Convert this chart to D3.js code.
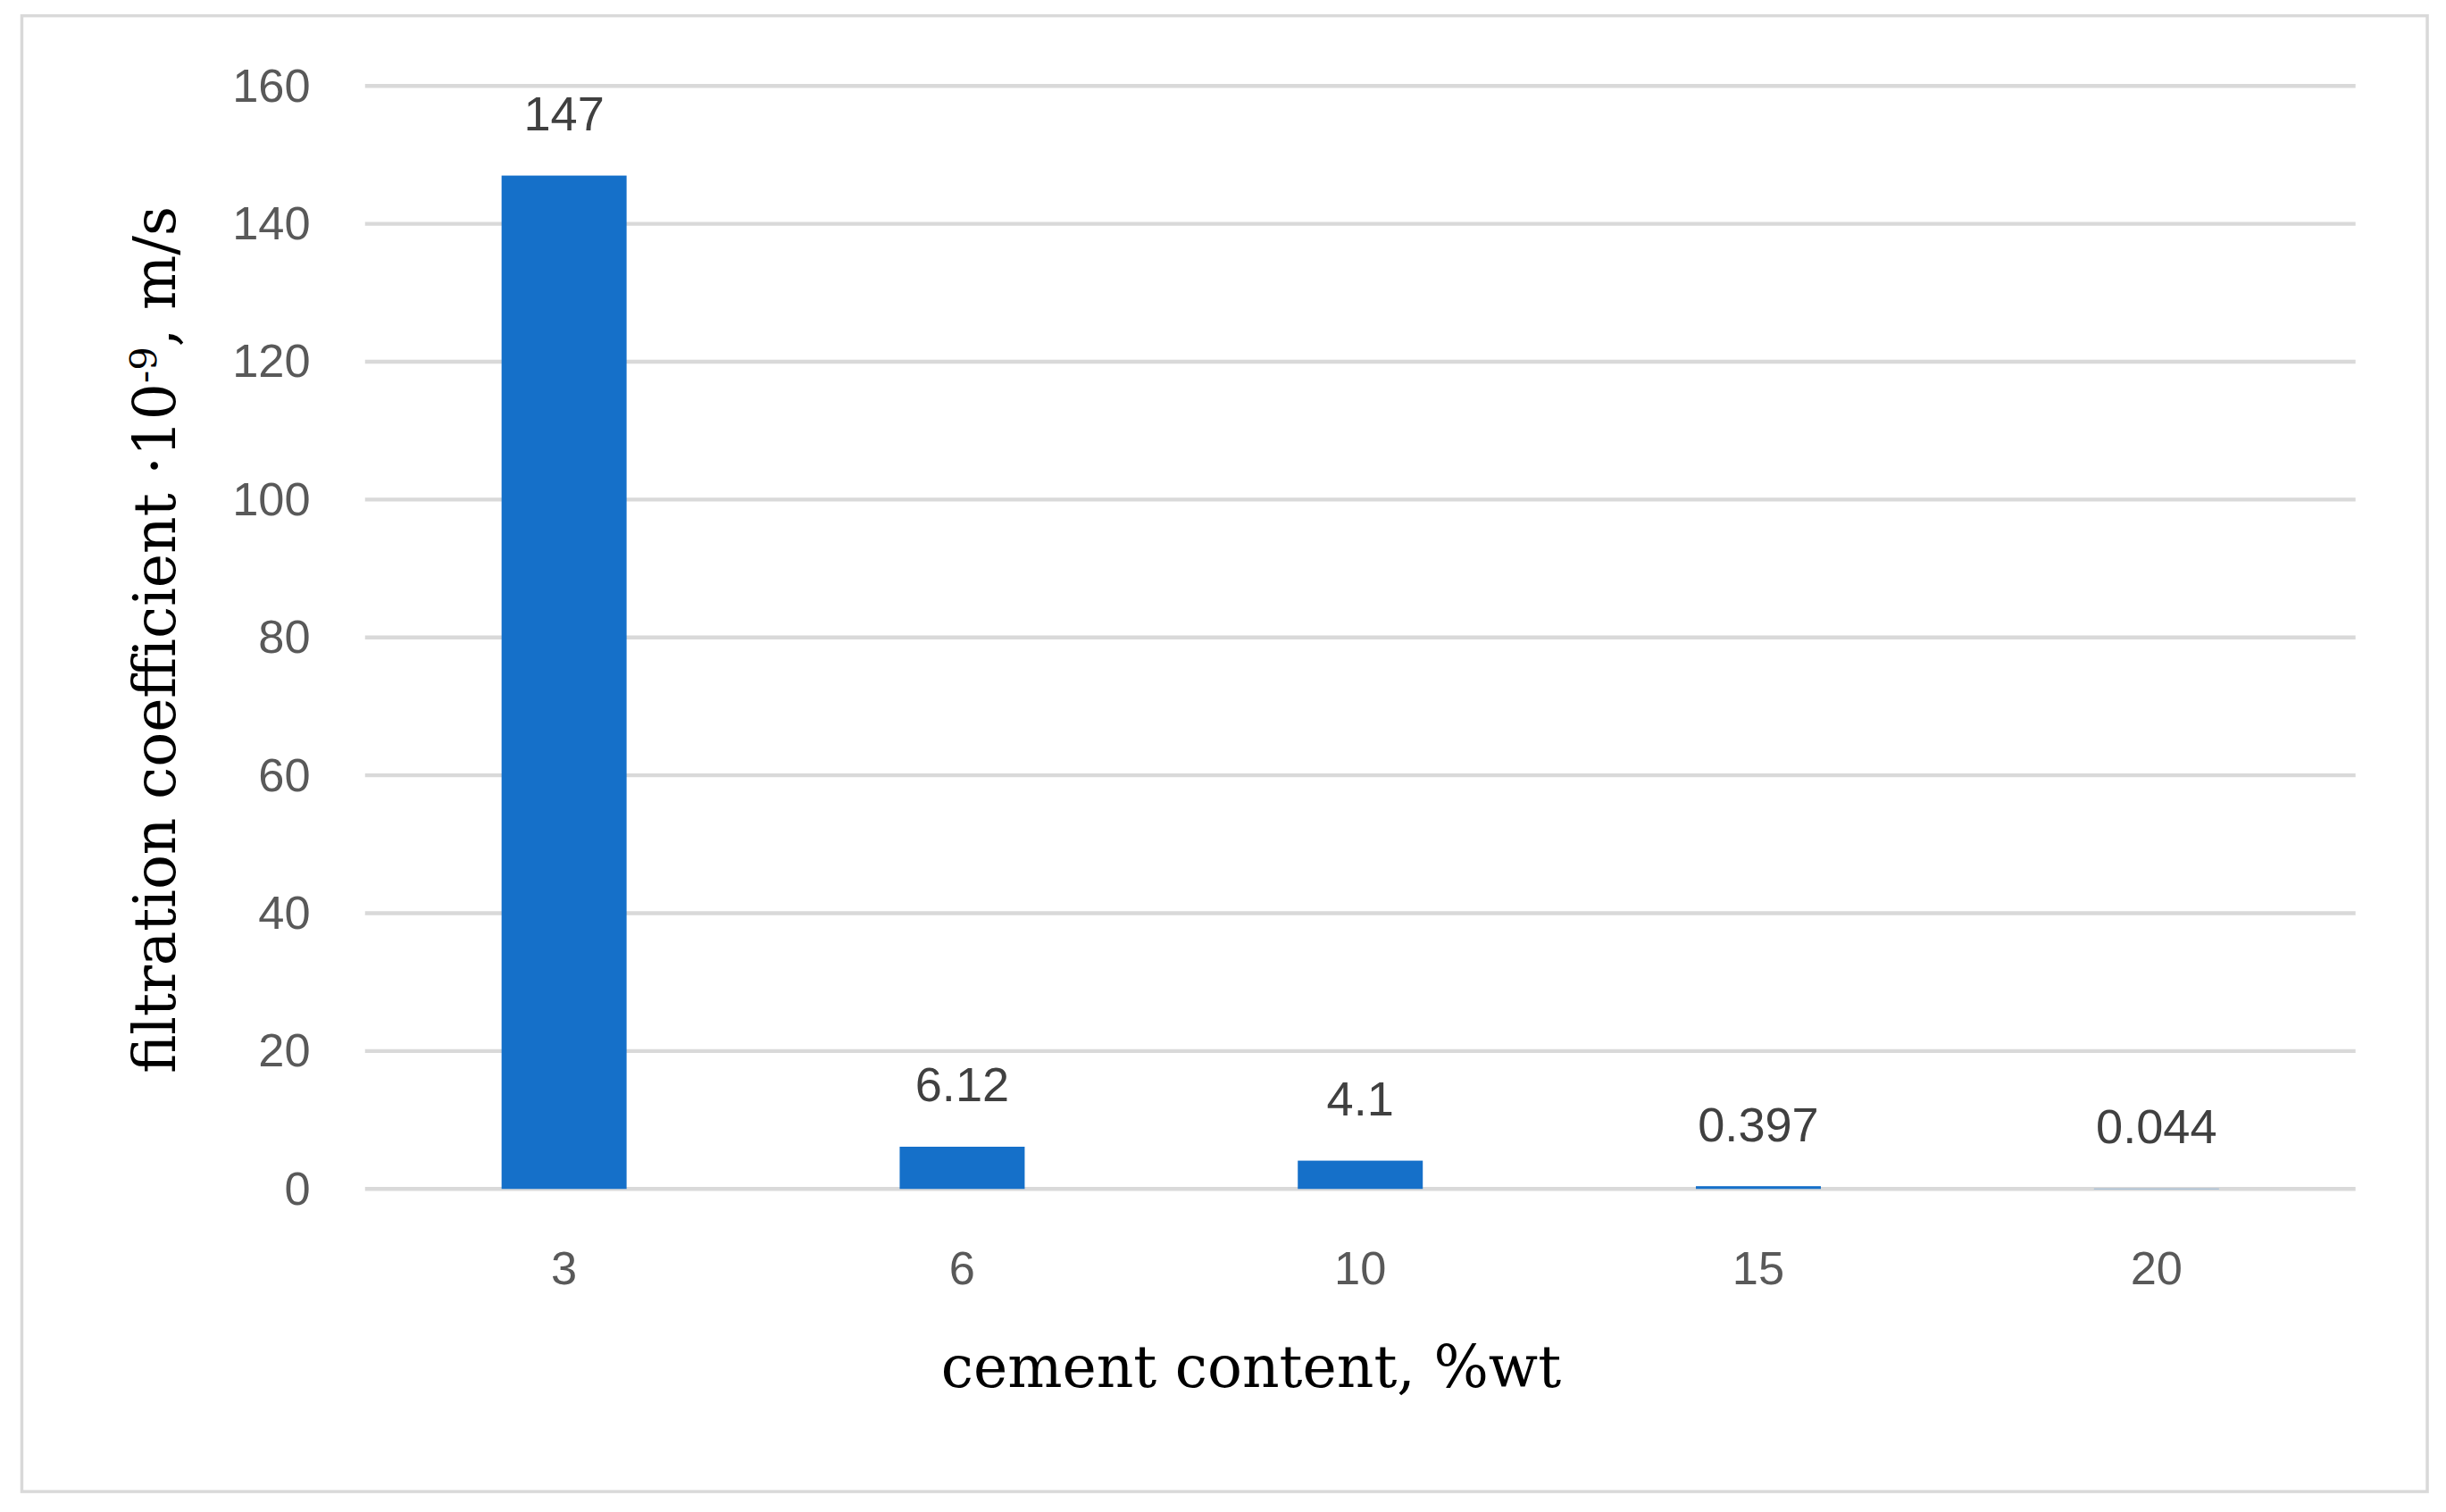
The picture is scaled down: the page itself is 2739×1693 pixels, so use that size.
<!DOCTYPE html>
<html><head><meta charset="utf-8">
<script src="https://cdn.jsdelivr.net/npm/d3@7"></script>
<style>body{margin:0;background:#fff}</style>
</head><body>
<svg id="chart"></svg>
<script>
var categories = ["3", "6", "10", "15", "20"];
var values = [147, 6.12, 4.1, 0.397, 0.044];
var valueLabels = ["147", "6.12", "4.1", "0.397", "0.044"];
var yTicks = [0, 20, 40, 60, 80, 100, 120, 140, 160];

var svg = d3.select('#chart')
    .attr("width", 2739).attr("height", 1693)
    .attr("viewBox", [0, 0, 1568, 969].join(' '));
svg.append("rect").attr("x", 14).attr("y", 10).attr("width", 1542).attr("height", 946)
    .style("fill", "#fff").style("stroke", "#d9d9d9").style("stroke-width", 2);

var x = d3.scaleBand().domain(categories).range([234, 1510]).paddingInner(0.686).paddingOuter(0.343);
var y = d3.scaleLinear().domain([0, 160]).range([762, 55]);

// gridlines
svg.append("g").selectAll("line").data(yTicks).enter().append("line")
    .attr("x1", 234).attr("x2", 1510)
    .attr("y1", function(d){ return y(d); }).attr("y2", function(d){ return y(d); })
    .style("stroke", "#d9d9d9").style("stroke-width", 2.5);

// y axis labels
svg.append("g").selectAll("text").data(yTicks).enter().append("text")
    .attr("x", 199).attr("y", function(d){ return y(d) + 10; })
    .attr("text-anchor", "end")
    .style("font-family", "Liberation Sans Narrow, Liberation Sans, sans-serif")
    .style("font-size", "30px").style("fill", "#595959")
    .text(function(d){ return d; });

// x axis labels
svg.append("g").selectAll("text").data(categories).enter().append("text")
    .attr("x", function(d){ return x(d) + x.bandwidth()/2; }).attr("y", 823)
    .attr("text-anchor", "middle")
    .style("font-family", "Liberation Sans Narrow, Liberation Sans, sans-serif")
    .style("font-size", "30px").style("fill", "#595959")
    .text(function(d){ return d; });

// bars
svg.append("g").selectAll("rect").data(values).enter().append("rect")
    .attr("x", function(d, i){ return x(categories[i]); })
    .attr("width", x.bandwidth())
    .attr("y", function(d){ return y(d); })
    .attr("height", function(d){ return y(0) - y(d); })
    .style("fill", "#1570c9");

// data labels
svg.append("g").selectAll("text").data(values).enter().append("text")
    .attr("x", function(d, i){ return x(categories[i]) + x.bandwidth()/2; })
    .attr("y", function(d){ return y(d) - 29; })
    .attr("text-anchor", "middle")
    .style("font-family", "Liberation Sans Narrow, Liberation Sans, sans-serif")
    .style("font-size", "31px").style("fill", "#404040")
    .text(function(d, i){ return valueLabels[i]; });

// axis titles
svg.append("text").attr("x", 802).attr("y", 889).attr("text-anchor", "middle")
    .style("font-family", "DejaVu Serif, serif").style("font-size", "37px").style("fill", "#000")
    .text("cement content, %wt");
var yt = svg.append("text").attr("transform", "translate(112,410) rotate(-90)")
    .attr("text-anchor", "middle")
    .style("font-family", "DejaVu Serif, serif").style("font-size", "37px").style("fill", "#000");
yt.append("tspan").text("filtration coefficient ·10");
yt.append("tspan").attr("dy", -12).style("font-size", "24px").text("-9");
yt.append("tspan").attr("dy", 12).text(", m/s");
</script>
</body></html>
